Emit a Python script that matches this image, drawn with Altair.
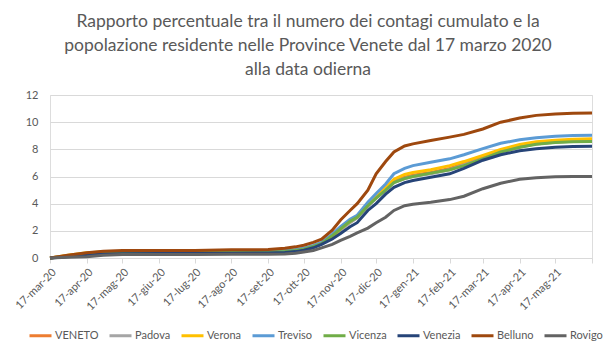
import altair as alt
import pandas as pd

title_lines = [
    "Rapporto percentuale tra il numero dei contagi cumulato e la",
    "popolazione residente nelle Province Venete dal 17 marzo 2020",
    "alla data odierna",
]

dates = ["2020-03-17", "2020-04-01", "2020-04-17", "2020-05-01", "2020-05-17", "2020-06-17",
         "2020-07-17", "2020-08-17", "2020-09-17", "2020-10-01", "2020-10-10", "2020-10-17",
         "2020-10-25", "2020-11-01", "2020-11-10", "2020-11-17", "2020-11-25", "2020-12-01",
         "2020-12-10", "2020-12-17", "2020-12-25", "2021-01-01", "2021-01-10", "2021-01-17",
         "2021-02-01", "2021-02-17", "2021-03-01", "2021-03-17", "2021-04-01", "2021-04-17",
         "2021-05-01", "2021-05-17", "2021-06-01", "2021-06-17"]

series_names = ["VENETO", "Padova", "Verona", "Treviso", "Vicenza", "Venezia", "Belluno", "Rovigo"]
series_colors = ["#ED7D31", "#A5A5A5", "#FFC000", "#5B9BD5", "#70AD47", "#264478", "#9E480E", "#636363"]

veneto = [0, 0.17, 0.33, 0.42, 0.45, 0.45, 0.45, 0.47, 0.49, 0.53, 0.58, 0.66, 0.85, 1.05, 1.6, 2.1, 2.65,
          3.0, 3.85, 4.45, 5.1, 5.65, 5.95, 6.1, 6.3, 6.6, 6.95, 7.4, 7.85, 8.2, 8.42, 8.55, 8.62, 8.65]
padova = [0, 0.17, 0.33, 0.42, 0.44, 0.44, 0.44, 0.46, 0.48, 0.52, 0.57, 0.65, 0.83, 1.02, 1.55, 2.05, 2.6,
          2.95, 3.8, 4.4, 5.0, 5.55, 5.85, 6.0, 6.2, 6.5, 6.85, 7.3, 7.8, 8.15, 8.4, 8.52, 8.6, 8.62]
verona = [0, 0.2, 0.38, 0.45, 0.47, 0.47, 0.47, 0.5, 0.52, 0.55, 0.6, 0.68, 0.85, 1.05, 1.6, 2.15, 2.7,
          3.05, 3.9, 4.5, 5.2, 5.8, 6.15, 6.3, 6.5, 6.8, 7.1, 7.55, 8.0, 8.35, 8.55, 8.67, 8.75, 8.78]
treviso = [0, 0.15, 0.3, 0.42, 0.45, 0.45, 0.45, 0.47, 0.5, 0.55, 0.62, 0.72, 0.92, 1.15, 1.75, 2.3, 2.85,
           3.15, 4.1, 4.75, 5.45, 6.2, 6.6, 6.8, 7.05, 7.3, 7.6, 8.05, 8.45, 8.7, 8.85, 8.96, 9.02, 9.04]
vicenza = [0, 0.12, 0.25, 0.38, 0.4, 0.4, 0.4, 0.42, 0.44, 0.48, 0.55, 0.65, 0.85, 1.05, 1.65, 2.15, 2.7,
           3.0, 3.85, 4.4, 5.0, 5.55, 5.85, 6.0, 6.25, 6.5, 6.8, 7.3, 7.8, 8.15, 8.38, 8.5, 8.55, 8.58]
venezia = [0, 0.1, 0.2, 0.3, 0.32, 0.33, 0.33, 0.35, 0.37, 0.4, 0.47, 0.57, 0.75, 1.0, 1.4, 1.8, 2.3,
           2.6, 3.5, 4.0, 4.7, 5.2, 5.55, 5.7, 5.95, 6.2, 6.6, 7.2, 7.6, 7.9, 8.05, 8.15, 8.2, 8.22]
belluno = [0, 0.2, 0.38, 0.5, 0.55, 0.55, 0.55, 0.6, 0.62, 0.72, 0.82, 0.94, 1.15, 1.38, 2.05, 2.8, 3.5,
           4.0, 5.0, 6.2, 7.1, 7.8, 8.25, 8.4, 8.65, 8.9, 9.1, 9.5, 10.0, 10.3, 10.5, 10.6, 10.65, 10.68]
rovigo = [0, 0.05, 0.1, 0.2, 0.25, 0.25, 0.25, 0.27, 0.28, 0.3, 0.35, 0.44, 0.55, 0.75, 1.0, 1.3, 1.6,
          1.85, 2.2, 2.6, 3.0, 3.5, 3.85, 3.95, 4.1, 4.3, 4.55, 5.1, 5.5, 5.8, 5.9, 5.98, 6.0, 6.0]

series_values = [veneto, padova, verona, treviso, vicenza, venezia, belluno, rovigo]

tick_dates = ["2020-03-17", "2020-04-17", "2020-05-17", "2020-06-17", "2020-07-17", "2020-08-17",
              "2020-09-17", "2020-10-17", "2020-11-17", "2020-12-17", "2021-01-17", "2021-02-17",
              "2021-03-17", "2021-04-17", "2021-05-17", "2021-06-17"]
month_abbr = ["gen", "feb", "mar", "apr", "mag", "giu", "lug", "ago", "set", "ott", "nov", "dic"]
y_ticks = [0, 2, 4, 6, 8, 10, 12]

rows = []
for name, vals in zip(series_names, series_values):
    for d, v in zip(dates, vals):
        rows.append({"data": d, "serie": name, "valore": v})
df = pd.DataFrame(rows)

FONT = "Lato"
GREY = "#595959"

def dt(s):
    y, m, d = s.split("-")
    return alt.DateTime(year=int(y), month=int(m), date=int(d), utc=True)

months_js = "[" + ",".join("'" + m + "'" for m in month_abbr) + "]"
label_expr = (
    f"datum.value >= {pd.Timestamp(tick_dates[-1]).value // 10**6} ? '' : "
    f"utcFormat(datum.value, '%d') + '-' + {months_js}[utcmonth(datum.value)] + '-' + utcFormat(datum.value, '%y')"
)

chart = alt.Chart(df).mark_line(strokeWidth=3).encode(
    x=alt.X(
        "data:T",
        scale=alt.Scale(type="utc", domain=[dt(tick_dates[0]), dt(tick_dates[-1])], nice=False),
        axis=alt.Axis(
            values=[dt(t) for t in tick_dates],
            labelExpr=label_expr,
            labelAngle=-45,
            labelFont=FONT, labelFontSize=11, labelColor=GREY,
            domainColor="#D9D9D9", tickColor="#D9D9D9", tickSize=5,
            grid=False, title=None, labelPadding=3, labelOverlap=False,
        ),
    ),
    y=alt.Y(
        "valore:Q",
        scale=alt.Scale(domain=[0, 12], nice=False),
        axis=alt.Axis(
            values=y_ticks, labelFont=FONT, labelFontSize=11, labelColor=GREY,
            domain=False, ticks=False, gridColor="#D9D9D9", labelPadding=12, title=None,
        ),
    ),
    color=alt.Color(
        "serie:N",
        scale=alt.Scale(domain=series_names, range=series_colors),
        sort=series_names,
        legend=alt.Legend(
            orient="none", legendX=-22, legendY=228, direction="horizontal",
            title=None, symbolType="stroke", symbolSize=484, symbolStrokeWidth=3,
            labelFont=FONT, labelFontSize=11, labelColor=GREY, columnPadding=4,
            symbolOffset=0, labelOffset=2,
        ),
    ),
    order=alt.Order("data:T"),
).properties(
    width=542,
    height=163,
    title=alt.TitleParams(
        text=title_lines, font=FONT, fontSize=17.5, fontWeight="normal", color=GREY,
        anchor="middle", dx=-13, offset=11, lineHeight=24,
    ),
    padding={"left": 50, "top": 95, "right": 24, "bottom": 95},
    autosize=alt.AutoSizeParams(type="none"),
).configure_view(stroke=None).configure(background="white")

chart.save("out.html", embed_options={"renderer": "svg", "actions": False})
